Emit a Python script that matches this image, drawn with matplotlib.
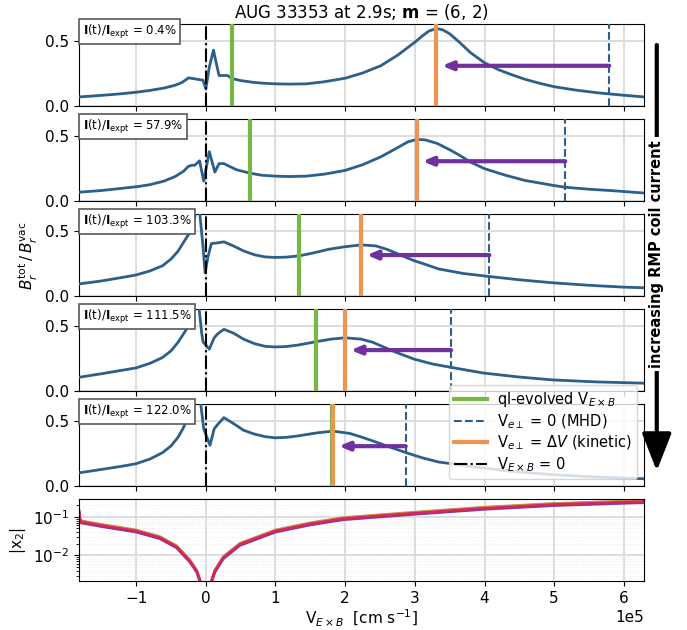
import matplotlib
matplotlib.use("Agg")
import matplotlib.pyplot as plt
import numpy as np
from matplotlib.lines import Line2D
from matplotlib.patches import FancyArrowPatch
from matplotlib.ticker import MultipleLocator, FormatStrFormatter

# ---- data (velocities in units of 1e5 cm/s) ----
coil_percent = [0.4, 57.9, 103.3, 111.5, 122.0]

v1 = [-1.82, -1.6, -1.4, -1.2, -1.0, -0.8, -0.6, -0.45, -0.35, -0.28, -0.25, -0.18, -0.1, -0.04, 0.0,
      0.05, 0.11, 0.15, 0.19, 0.31, 0.38, 0.5, 0.69, 0.85, 1.0, 1.2, 1.44, 1.7, 2.0, 2.25, 2.51, 2.75,
      2.9, 3.0, 3.1, 3.2, 3.31, 3.4, 3.5, 3.64, 3.8, 4.0, 4.2, 4.4, 4.58, 4.8, 5.0, 5.3, 5.6, 5.79,
      6.0, 6.29]
b1 = [0.072, 0.08, 0.088, 0.097, 0.108, 0.122, 0.14, 0.16, 0.18, 0.205, 0.218, 0.212, 0.205, 0.2, 0.133,
      0.30, 0.43, 0.33, 0.236, 0.236, 0.212, 0.197, 0.183, 0.176, 0.172, 0.17, 0.172, 0.188, 0.215, 0.255,
      0.31, 0.39, 0.45, 0.49, 0.535, 0.575, 0.595, 0.585, 0.555, 0.49, 0.41, 0.333, 0.28, 0.24, 0.207,
      0.175, 0.15, 0.125, 0.105, 0.095, 0.085, 0.072]

v2 = [-1.82, -1.5, -1.2, -0.98, -0.8, -0.6, -0.44, -0.32, -0.25, -0.2, -0.16, -0.09, -0.03, 0.05, 0.13,
      0.19, 0.26, 0.35, 0.44, 0.63, 0.8, 1.0, 1.2, 1.44, 1.7, 2.0, 2.25, 2.51, 2.75, 2.9, 3.03, 3.15,
      3.32, 3.5, 3.64, 3.8, 4.0, 4.3, 4.58, 5.0, 5.16, 5.5, 5.83, 6.29]
b2 = [0.07, 0.083, 0.1, 0.113, 0.128, 0.155, 0.19, 0.23, 0.268, 0.276, 0.276, 0.31, 0.155, 0.38, 0.224,
      0.289, 0.289, 0.265, 0.242, 0.216, 0.2, 0.193, 0.19, 0.193, 0.208, 0.237, 0.28, 0.34, 0.41, 0.455,
      0.474, 0.47, 0.443, 0.395, 0.353, 0.3, 0.25, 0.2, 0.16, 0.121, 0.108, 0.093, 0.082, 0.064]

v3 = [-1.81, -1.5, -1.2, -1.0, -0.8, -0.62, -0.5, -0.4, -0.3, -0.23, -0.18, -0.15, -0.12, -0.085, -0.04,
      -0.01, 0.03, 0.08, 0.18, 0.26, 0.4, 0.54, 0.7, 0.85, 0.99, 1.15, 1.34, 1.55, 1.76, 2.0, 2.23, 2.44,
      2.6, 2.8, 2.99, 3.15, 3.34, 3.7, 4.07, 4.5, 4.98, 5.5, 5.99, 6.29]
b3 = [0.096, 0.118, 0.145, 0.164, 0.195, 0.235, 0.285, 0.345, 0.43, 0.487, 0.56, 0.626, 0.75, 0.626, 0.38,
      0.18, 0.3, 0.404, 0.41, 0.417, 0.385, 0.348, 0.318, 0.302, 0.298, 0.3, 0.31, 0.333, 0.36, 0.38,
      0.394, 0.386, 0.36, 0.315, 0.273, 0.245, 0.21, 0.175, 0.152, 0.127, 0.104, 0.085, 0.071, 0.066]

v4 = [-1.81, -1.5, -1.2, -1.0, -0.8, -0.62, -0.5, -0.4, -0.32, -0.25, -0.2, -0.16, -0.12, -0.095, -0.06,
      -0.04, 0.05, 0.12, 0.17, 0.26, 0.4, 0.54, 0.7, 0.85, 0.99, 1.15, 1.33, 1.58, 1.8, 2.0, 2.23, 2.4,
      2.55, 2.75, 2.99, 3.25, 3.52, 3.98, 4.5, 4.98, 5.6, 6.29]
b4 = [0.109, 0.135, 0.162, 0.18, 0.215, 0.26, 0.31, 0.375, 0.44, 0.5, 0.56, 0.626, 0.8, 0.626, 0.45,
      0.379, 0.323, 0.41, 0.44, 0.475, 0.445, 0.4, 0.365, 0.345, 0.34, 0.343, 0.355, 0.38, 0.4, 0.41,
      0.4, 0.375, 0.34, 0.295, 0.247, 0.21, 0.184, 0.141, 0.11, 0.088, 0.073, 0.063]

v5 = [-1.81, -1.5, -1.2, -1.0, -0.8, -0.62, -0.5, -0.4, -0.33, -0.26, -0.2, -0.13, -0.07, -0.03, 0.06,
      0.12, 0.17, 0.26, 0.4, 0.54, 0.7, 0.86, 0.99, 1.15, 1.33, 1.6, 1.83, 2.07, 2.25, 2.44, 2.65, 2.87,
      3.1, 3.34, 3.87, 4.4, 4.98, 5.6, 6.29]
b5 = [0.105, 0.13, 0.155, 0.174, 0.21, 0.259, 0.31, 0.375, 0.44, 0.52, 0.618, 0.85, 0.618, 0.44, 0.315,
      0.44, 0.474, 0.526, 0.48, 0.43, 0.4, 0.38, 0.372, 0.375, 0.387, 0.41, 0.423, 0.405, 0.375, 0.34,
      0.3, 0.259, 0.22, 0.187, 0.149, 0.115, 0.09, 0.072, 0.059]

v_series = [v1, v2, v3, v4, v5]
b_series = [b1, b2, b3, b4, b5]

v_ql = [0.38, 0.63, 1.34, 1.58, 1.81]        # ql-evolved V_ExB
v_mhd = [5.79, 5.16, 4.07, 3.52, 2.87]       # V_e,perp = 0
v_kin = [3.31, 3.03, 2.23, 2.00, 1.83]       # V_e,perp = dV
arrow_level = [0.31, 0.307, 0.316, 0.316, 0.308]

chi_v = [-1.82, -1.80, -1.5, -1.0, -0.66, -0.42, -0.23, -0.13, -0.08, -0.04, 0.04, 0.08, 0.13, 0.25,
         0.49, 1.0, 1.5, 1.97, 3.0, 4.0, 5.0, 6.29]
chi_abs = [0.14, 0.075, 0.06, 0.043, 0.029, 0.0168, 0.0072, 0.0039, 0.0021, 0.0009, 0.0009, 0.0021,
           0.0039, 0.0087, 0.0194, 0.043, 0.066, 0.09, 0.125, 0.168, 0.21, 0.25]
chi_spread = [1.07, 1.035, 0.93, 0.965, 1.0]
chi_colors = ["#ab9f5c", "#e2813a", "#7a4fb0", "#8e2f90", "#d6265c"]

SCALE = 1e5
C_CURVE = "#2c5f8a"
C_QL = "#76b843"
C_KIN = "#ec9552"
C_ARROW = "#7030a0"
GRID_C = "#dadada"

fig = plt.figure(figsize=(6.87, 6.30), dpi=100)
gs = fig.add_gridspec(6, 1, left=0.115, right=0.9375, top=0.962, bottom=0.077, hspace=0.153)
axes = [fig.add_subplot(gs[0])]
for i in range(1, 6):
    axes.append(fig.add_subplot(gs[i], sharex=axes[0]))

xlim = (-1.82 * SCALE, 6.29 * SCALE)

for i in range(5):
    ax = axes[i]
    ax.grid(True, color=GRID_C, lw=1.3, zorder=0)
    ax.set_axisbelow(True)
    ax.plot(np.array(v_series[i]) * SCALE, b_series[i], color=C_CURVE, lw=2, zorder=3)
    ax.axvline(0, color="k", ls="-.", lw=1.5, zorder=4)
    ax.axvline(v_ql[i] * SCALE, color=C_QL, lw=3, zorder=4)
    ax.axvline(v_mhd[i] * SCALE, color=C_CURVE, ls="--", lw=1.5, zorder=4)
    ax.axvline(v_kin[i] * SCALE, color=C_KIN, lw=3, zorder=4)
    ax.annotate("", xy=(v_kin[i] * SCALE, arrow_level[i]), xytext=(v_mhd[i] * SCALE, arrow_level[i]),
                arrowprops=dict(arrowstyle="-|>,head_width=0.25,head_length=0.6", color=C_ARROW,
                                lw=3, shrinkA=0, shrinkB=4), zorder=5)
    ax.set_ylim(0, 0.63)
    ax.set_yticks([0.0, 0.5])
    ax.yaxis.set_major_formatter(FormatStrFormatter("%.1f"))
    ax.tick_params(labelsize=11, labelbottom=False)
    ax.annotate(r"$\mathbf{I}$(t)/$\mathbf{I}_{\mathrm{expt}}$ = " + f"{coil_percent[i]:.1f}%",
                xy=(0, 1), xycoords="axes fraction", xytext=(2.6, 1.0), textcoords="offset points",
                ha="left", va="top", fontsize=8.5, zorder=10,
                bbox=dict(boxstyle="square,pad=0.3", fc="white", ec="0.35", lw=1.2))

axes[0].set_title(r"AUG 33353 at 2.9s; $\mathbf{m}$ = (6, 2)", fontsize=12, pad=4)
axes[2].set_ylabel(r"$B_r^{\mathrm{tot}}\,/\,B_r^{\mathrm{vac}}$", fontsize=11)

handles = [
    Line2D([], [], color=C_QL, lw=3, label=r"ql-evolved V$_{E\times B}$"),
    Line2D([], [], color=C_CURVE, lw=1.5, ls="--", label=r"V$_{e\perp}$ = 0 (MHD)"),
    Line2D([], [], color=C_KIN, lw=3, label=r"V$_{e\perp}$ = $\Delta V$ (kinetic)"),
    Line2D([], [], color="k", lw=1.5, ls="-.", label=r"V$_{E\times B}$ = 0"),
]
leg = axes[4].legend(handles=handles, loc="lower right", fontsize=10.5, framealpha=0.8,
                     labelspacing=0.22, handlelength=2.2, handletextpad=0.7, borderpad=0.35)
leg.set_zorder(20)

# |x2| panel
axc = axes[5]
axc.set_yscale("log")
axc.grid(True, which="major", color=GRID_C, lw=1.3)
axc.grid(True, which="minor", color="#e6e6e6", lw=0.6, ls=":")
axc.set_axisbelow(True)
for f, c in zip(chi_spread, chi_colors):
    axc.plot(np.array(chi_v) * SCALE, np.array(chi_abs) * f, color=c, lw=1.8)
axc.set_ylim(2.1e-3, 0.29)
axc.set_ylabel("|x$_2$|", fontsize=11)
axc.set_xlabel(r"V$_{E\times B}$  [cm s$^{-1}$]", fontsize=11, labelpad=1)
axc.tick_params(labelsize=11)
axc.tick_params(labelbottom=True)
axc.xaxis.set_major_locator(MultipleLocator(1e5))
axc.ticklabel_format(axis="x", style="sci", scilimits=(0, 0))
axc.set_xlim(*xlim)
axc.xaxis.get_offset_text().set_fontsize(11)

# coil-current direction indicator
arr = FancyArrowPatch((0.956, 0.933), (0.956, 0.248), transform=fig.transFigure,
                      arrowstyle="-|>,head_width=0.45,head_length=1.15", mutation_scale=20,
                      color="k", lw=3)
fig.add_artist(arr)
fig.text(0.956, 0.597, "increasing RMP coil current", rotation=90, fontweight="bold", fontsize=10.5,
         ha="center", va="center", bbox=dict(fc="white", ec="none", pad=2))

fig.savefig("out.png", dpi=100)
